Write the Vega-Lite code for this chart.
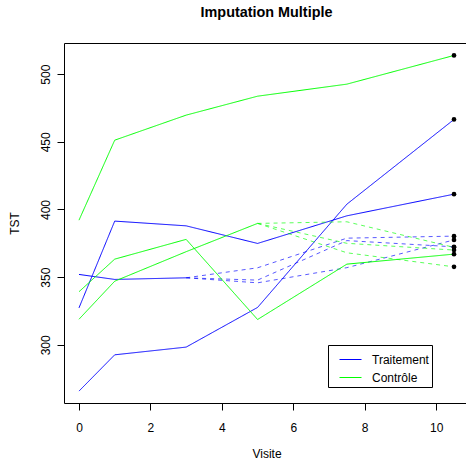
{
  "$schema": "https://vega.github.io/schema/vega-lite/v6.json",
  "autosize": "none",
  "padding": {"left": 64, "top": 43, "right": 0, "bottom": 57},
  "width": 405,
  "height": 360,
  "title": {"text": "Imputation Multiple", "font": "Liberation Sans", "fontSize": 14.4, "fontWeight": "bold", "anchor": "middle", "baseline": "alphabetic", "offset": 12, "color": "#000"},
  "config": {
    "font": "Liberation Sans",
    "view": {"stroke": "#000", "strokeWidth": 1},
    "axis": {"grid": false, "domain": false, "tickColor": "#000", "tickSize": 7, "labelColor": "#000", "labelFont": "Liberation Sans", "labelFontSize": 12, "titleFont": "Liberation Sans", "titleFontSize": 12, "titleFontWeight": "normal", "titleColor": "#000"}
  },
  "data": {"values": [
    {"id": "t1", "grp": "Traitement", "type": "obs", "visite": 0, "tst": 265.8},
    {"id": "t1", "grp": "Traitement", "type": "obs", "visite": 1, "tst": 292.6},
    {"id": "t1", "grp": "Traitement", "type": "obs", "visite": 3, "tst": 298.3},
    {"id": "t1", "grp": "Traitement", "type": "obs", "visite": 5, "tst": 327.6},
    {"id": "t1", "grp": "Traitement", "type": "obs", "visite": 7.5, "tst": 403.9},
    {"id": "t1", "grp": "Traitement", "type": "obs", "visite": 10.5, "tst": 466.5},
    {"id": "t2", "grp": "Traitement", "type": "obs", "visite": 0, "tst": 327.3},
    {"id": "t2", "grp": "Traitement", "type": "obs", "visite": 1, "tst": 391.4},
    {"id": "t2", "grp": "Traitement", "type": "obs", "visite": 3, "tst": 387.9},
    {"id": "t2", "grp": "Traitement", "type": "obs", "visite": 5, "tst": 374.9},
    {"id": "t2", "grp": "Traitement", "type": "obs", "visite": 7.5, "tst": 395.3},
    {"id": "t2", "grp": "Traitement", "type": "obs", "visite": 10.5, "tst": 411.3},
    {"id": "t3", "grp": "Traitement", "type": "obs", "visite": 0, "tst": 352.0},
    {"id": "t3", "grp": "Traitement", "type": "obs", "visite": 1, "tst": 348.3},
    {"id": "t3", "grp": "Traitement", "type": "obs", "visite": 3, "tst": 349.5},
    {"id": "t3a", "grp": "Traitement", "type": "imp", "visite": 3, "tst": 349.5},
    {"id": "t3a", "grp": "Traitement", "type": "imp", "visite": 5, "tst": 356.9},
    {"id": "t3a", "grp": "Traitement", "type": "imp", "visite": 7.5, "tst": 378.8},
    {"id": "t3a", "grp": "Traitement", "type": "imp", "visite": 10.5, "tst": 380.3},
    {"id": "t3b", "grp": "Traitement", "type": "imp", "visite": 3, "tst": 349.5},
    {"id": "t3b", "grp": "Traitement", "type": "imp", "visite": 5, "tst": 347.8},
    {"id": "t3b", "grp": "Traitement", "type": "imp", "visite": 7.5, "tst": 377.0},
    {"id": "t3b", "grp": "Traitement", "type": "imp", "visite": 10.5, "tst": 372.4},
    {"id": "t3c", "grp": "Traitement", "type": "imp", "visite": 3, "tst": 349.5},
    {"id": "t3c", "grp": "Traitement", "type": "imp", "visite": 5, "tst": 345.8},
    {"id": "t3c", "grp": "Traitement", "type": "imp", "visite": 7.5, "tst": 357.0},
    {"id": "t3c", "grp": "Traitement", "type": "imp", "visite": 10.5, "tst": 377.5},
    {"id": "c1", "grp": "Contrôle", "type": "obs", "visite": 0, "tst": 392.1},
    {"id": "c1", "grp": "Contrôle", "type": "obs", "visite": 1, "tst": 451.2},
    {"id": "c1", "grp": "Contrôle", "type": "obs", "visite": 3, "tst": 469.7},
    {"id": "c1", "grp": "Contrôle", "type": "obs", "visite": 5, "tst": 483.7},
    {"id": "c1", "grp": "Contrôle", "type": "obs", "visite": 7.5, "tst": 492.6},
    {"id": "c1", "grp": "Contrôle", "type": "obs", "visite": 10.5, "tst": 513.8},
    {"id": "c2", "grp": "Contrôle", "type": "obs", "visite": 0, "tst": 339.2},
    {"id": "c2", "grp": "Contrôle", "type": "obs", "visite": 1, "tst": 363.3},
    {"id": "c2", "grp": "Contrôle", "type": "obs", "visite": 3, "tst": 377.9},
    {"id": "c2", "grp": "Contrôle", "type": "obs", "visite": 5, "tst": 318.7},
    {"id": "c2", "grp": "Contrôle", "type": "obs", "visite": 7.5, "tst": 359.6},
    {"id": "c2", "grp": "Contrôle", "type": "obs", "visite": 10.5, "tst": 367.0},
    {"id": "c3", "grp": "Contrôle", "type": "obs", "visite": 0, "tst": 318.9},
    {"id": "c3", "grp": "Contrôle", "type": "obs", "visite": 1, "tst": 347.0},
    {"id": "c3", "grp": "Contrôle", "type": "obs", "visite": 3, "tst": 368.8},
    {"id": "c3", "grp": "Contrôle", "type": "obs", "visite": 5, "tst": 389.7},
    {"id": "c3a", "grp": "Contrôle", "type": "imp", "visite": 5, "tst": 389.7},
    {"id": "c3a", "grp": "Contrôle", "type": "imp", "visite": 7.5, "tst": 390.9},
    {"id": "c3a", "grp": "Contrôle", "type": "imp", "visite": 10.5, "tst": 372.0},
    {"id": "c3b", "grp": "Contrôle", "type": "imp", "visite": 5, "tst": 389.7},
    {"id": "c3b", "grp": "Contrôle", "type": "imp", "visite": 7.5, "tst": 375.0},
    {"id": "c3b", "grp": "Contrôle", "type": "imp", "visite": 10.5, "tst": 370.0},
    {"id": "c3c", "grp": "Contrôle", "type": "imp", "visite": 5, "tst": 389.7},
    {"id": "c3c", "grp": "Contrôle", "type": "imp", "visite": 7.5, "tst": 368.0},
    {"id": "c3c", "grp": "Contrôle", "type": "imp", "visite": 10.5, "tst": 357.6}
  ]},
  "encoding": {
    "x": {"field": "visite", "type": "quantitative", "title": "Visite", "scale": {"domain": [-0.42, 10.92], "nice": false, "zero": false},
          "axis": {"values": [0, 2, 4, 6, 8, 10], "labelPadding": 12, "titlePadding": 15}},
    "y": {"field": "tst", "type": "quantitative", "title": "TST", "scale": {"domain": [257, 523], "nice": false, "zero": false},
          "axis": {"values": [300, 350, 400, 450, 500], "labelAngle": -90, "labelAlign": "center", "labelBaseline": "bottom", "labelPadding": 5, "titlePadding": 18}}
  },
  "layer": [
    {
      "mark": {"type": "line", "strokeWidth": 1},
      "encoding": {
        "detail": {"field": "id"},
        "color": {"field": "grp", "type": "nominal", "scale": {"domain": ["Traitement", "Contrôle"], "range": ["#0000FF", "#00FF00"]},
                  "legend": {"title": null, "orient": "none", "legendX": 264, "legendY": 302, "symbolType": "stroke", "symbolSize": 484, "symbolStrokeWidth": 1, "symbolOffset": 8, "labelFontSize": 12, "labelFont": "Liberation Sans", "labelColor": "#000", "labelOffset": 10, "rowPadding": -8, "padding": 3, "strokeColor": "#000", "fillColor": "#fff"}},
        "strokeDash": {"field": "type", "type": "nominal", "scale": {"domain": ["obs", "imp"], "range": [[1, 0], [4, 4]]}, "legend": null},
        "opacity": {"field": "type", "type": "nominal", "scale": {"domain": ["obs", "imp"], "range": [1, 0.65]}, "legend": null}
      }
    },
    {
      "transform": [{"filter": "datum.visite == 10.5"}],
      "mark": {"type": "circle", "color": "#000", "size": 22, "opacity": 1}
    }
  ]
}
